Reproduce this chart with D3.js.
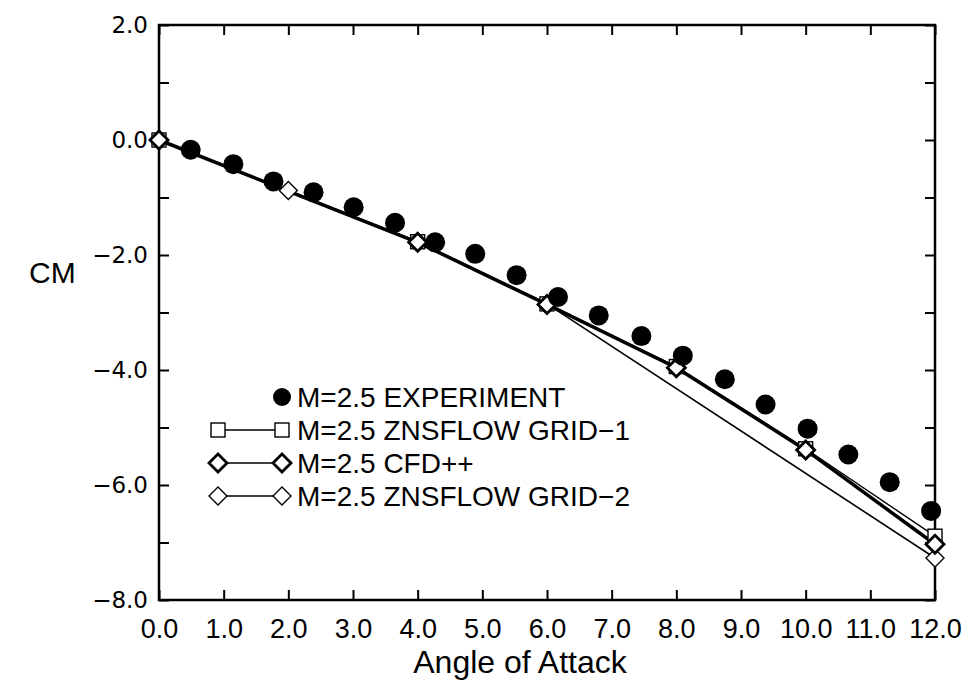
<!DOCTYPE html>
<html>
<head>
<meta charset="utf-8">
<script src="https://cdn.jsdelivr.net/npm/d3@7"></script>
<style>
  html, body { margin: 0; padding: 0; background: #fff; }
  svg { display: block; }
</style>
</head>
<body>
<svg id="chart" width="967" height="682"></svg>
<script>
// ---- data ----
const expAlpha = [0.49, 1.15, 1.77, 2.39, 3.01, 3.65, 4.27, 4.89, 5.53, 6.17, 6.80, 7.46, 8.10, 8.75, 9.38, 10.03, 10.66, 11.30, 11.94];
const expCM    = [-0.17, -0.42, -0.72, -0.91, -1.17, -1.44, -1.78, -1.98, -2.35, -2.73, -3.05, -3.41, -3.75, -4.16, -4.60, -5.02, -5.47, -5.95, -6.45];

const grid1Alpha = [0, 4, 6, 8, 10, 12];
const grid1CM    = [0, -1.77, -2.85, -3.94, -5.37, -6.89];

const cfdAlpha = [0, 4, 6, 8, 10, 12];
const cfdCM    = [0, -1.78, -2.86, -3.96, -5.39, -7.03];

const grid2Alpha = [0, 2, 4, 6, 12];
const grid2CM    = [0, -0.88, -1.77, -2.85, -7.27];

const xTicks = [0, 1, 2, 3, 4, 5, 6, 7, 8, 9, 10, 11, 12];
const yTicks = [-8, -7, -6, -5, -4, -3, -2, -1, 0, 1, 2];
const yLabelTicks = [-8, -6, -4, -2, 0, 2];

const legendLabels = ["M=2.5 EXPERIMENT", "M=2.5 ZNSFLOW GRID-1", "M=2.5 CFD++", "M=2.5 ZNSFLOW GRID-2"];

// ---- layout ----
const svg = d3.select("#chart");
const L = 159, R = 935, T = 25, B = 600;
const x = d3.scaleLinear().domain([0, 12]).range([L, R]);
const y = d3.scaleLinear().domain([-8, 2]).range([B, T]);
const fmt = d3.format(".1f");
const minusFmt = v => fmt(v).replace("-", "\u2212");

// frame
svg.append("rect").attr("x", L).attr("y", T).attr("width", R - L).attr("height", B - T)
  .attr("fill", "none").attr("stroke", "#000").attr("stroke-width", 2.5);

// axes
const styleAxis = g => {
  g.select(".domain").remove();
  g.selectAll(".tick line").attr("stroke", "#000").attr("stroke-width", 2);
};
svg.append("g").attr("transform", `translate(0,${B})`)
  .call(d3.axisBottom(x).tickValues(xTicks).tickSize(-10).tickPadding(19).tickFormat(fmt))
  .call(styleAxis)
  .call(g => g.selectAll("text").attr("font-family", "Liberation Sans").attr("font-size", 27).attr("fill", "#000"));
svg.append("g").attr("transform", `translate(0,${T})`)
  .call(d3.axisTop(x).tickValues(xTicks).tickSize(-10).tickFormat(""))
  .call(styleAxis);
svg.append("g").attr("transform", `translate(${L},0)`)
  .call(d3.axisLeft(y).tickValues(yTicks).tickSize(-10).tickPadding(11)
    .tickFormat(v => yLabelTicks.includes(v) ? minusFmt(v) : ""))
  .call(styleAxis)
  .call(g => g.selectAll("text").attr("font-family", "DejaVu Sans").attr("font-size", 23).attr("fill", "#000"));
svg.append("g").attr("transform", `translate(${R},0)`)
  .call(d3.axisRight(y).tickValues(yTicks).tickSize(-10).tickFormat(""))
  .call(styleAxis);

// axis titles
svg.append("text").attr("x", 520).attr("y", 673).attr("text-anchor", "middle")
  .attr("font-family", "Liberation Sans").attr("font-size", 32).text("Angle of Attack");
svg.append("text").attr("x", 29).attr("y", 283)
  .attr("font-family", "Liberation Sans").attr("font-size", 30).text("CM");

// lines
const line = d3.line().x(d => x(d[0])).y(d => y(d[1]));
const zip = (a, b) => a.map((v, i) => [v, b[i]]);
const grid1 = zip(grid1Alpha, grid1CM);
const cfd = zip(cfdAlpha, cfdCM);
const grid2 = zip(grid2Alpha, grid2CM);
const exp = zip(expAlpha, expCM);

svg.append("path").datum(grid2).attr("d", line).attr("fill", "none").attr("stroke", "#000").attr("stroke-width", 1.6);
svg.append("path").datum(grid1).attr("d", line).attr("fill", "none").attr("stroke", "#000").attr("stroke-width", 1.4);
svg.append("path").datum(cfd).attr("d", line).attr("fill", "none").attr("stroke", "#000").attr("stroke-width", 3.5);

// marker painters
const square = (g, cx, cy) => g.append("rect").attr("x", cx - 7).attr("y", cy - 7).attr("width", 14).attr("height", 14)
  .attr("fill", "#fff").attr("stroke", "#000").attr("stroke-width", 1.4);
const diamond = (g, cx, cy, sw) => g.append("path")
  .attr("d", `M${cx},${cy - 9}L${cx + 9},${cy}L${cx},${cy + 9}L${cx - 9},${cy}Z`)
  .attr("fill", "#fff").attr("stroke", "#000").attr("stroke-width", sw);

const mk = svg.append("g");
grid1.forEach(d => square(mk, x(d[0]), y(d[1])));
grid2.forEach(d => diamond(mk, x(d[0]), y(d[1]), 1.4));
cfd.forEach(d => diamond(mk, x(d[0]), y(d[1]), 2.8));
mk.selectAll("circle.exp").data(exp).join("circle").attr("class", "exp")
  .attr("cx", d => x(d[0])).attr("cy", d => y(d[1])).attr("r", 10).attr("fill", "#000");

// legend
const lg = svg.append("g");
const rowY = [397, 430, 463, 496];
const lx1 = 218, lx2 = 282, tx = 297;
lg.append("circle").attr("cx", lx2).attr("cy", rowY[0]).attr("r", 9).attr("fill", "#000");
[1, 2, 3].forEach(i => {
  lg.append("line").attr("x1", lx1).attr("x2", lx2).attr("y1", rowY[i]).attr("y2", rowY[i])
    .attr("stroke", "#000").attr("stroke-width", 1.4);
});
square(lg, lx1, rowY[1]); square(lg, lx2, rowY[1]);
diamond(lg, lx1, rowY[2], 2.8); diamond(lg, lx2, rowY[2], 2.8);
diamond(lg, lx1, rowY[3], 1.4); diamond(lg, lx2, rowY[3], 1.4);
legendLabels.forEach((t, i) => {
  lg.append("text").attr("x", tx).attr("y", rowY[i] + 10)
    .attr("font-family", "Liberation Sans").attr("font-size", 28).text(t.replace(/-(\d)$/, "\u2212$1"));
});
</script>
</body>
</html>
